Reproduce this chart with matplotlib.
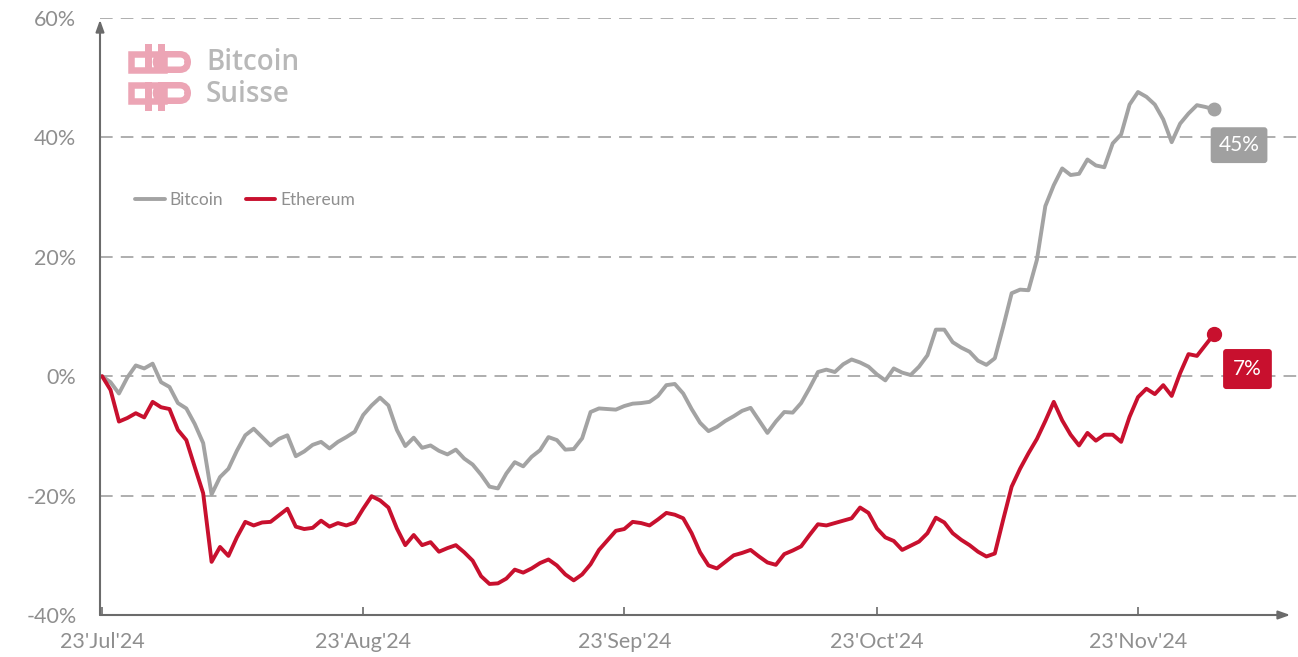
import matplotlib
matplotlib.use("Agg")
import matplotlib.pyplot as plt
from matplotlib.patches import FancyBboxPatch, Rectangle
import pandas as pd

# ---------------- data (percent change since 23 Jul 2024) ----------------
start_date = "2024-07-23"
bitcoin = [
    0.0, -1.0, -2.9, -0.2, 1.8, 1.3, 2.1, -1.0, -1.8, -4.5,
    -5.4, -8.0, -11.2, -19.8, -16.9, -15.5, -12.5, -9.9, -8.8, -10.2,
    -11.6, -10.5, -9.9, -13.4, -12.6, -11.5, -11.0, -12.1, -11.0, -10.2,
    -9.3, -6.5, -4.9, -3.6, -4.9, -9.0, -11.7, -10.3, -12.0, -11.6,
    -12.5, -13.1, -12.3, -13.8, -14.8, -16.5, -18.5, -18.8, -16.3, -14.4,
    -15.1, -13.5, -12.4, -10.2, -10.7, -12.3, -12.2, -10.4, -6.0, -5.4,
    -5.5, -5.6, -5.0, -4.6, -4.5, -4.3, -3.3, -1.5, -1.3, -2.9,
    -5.5, -7.8, -9.2, -8.5, -7.5, -6.7, -5.8, -5.3, -7.4, -9.5,
    -7.6, -6.0, -6.1, -4.5, -2.0, 0.7, 1.1, 0.7, 2.0, 2.8,
    2.3, 1.6, 0.3, -0.7, 1.3, 0.6, 0.2, 1.6, 3.5, 7.8,
    7.8, 5.7, 4.8, 4.1, 2.6, 1.9, 3.0, 8.3, 13.9, 14.5,
    14.4, 19.5, 28.5, 32.0, 34.8, 33.7, 33.9, 36.3, 35.3, 35.0,
    39.0, 40.5, 45.5, 47.6, 46.8, 45.5, 43.0, 39.2, 42.3, 44.0,
    45.4, 45.1, 44.7,
]
ethereum = [
    0.0, -2.3, -7.6, -7.0, -6.2, -6.9, -4.3, -5.2, -5.5, -9.0,
    -10.7, -15.2, -19.6, -31.1, -28.6, -30.1, -27.0, -24.4, -25.0, -24.5,
    -24.4, -23.3, -22.2, -25.2, -25.6, -25.4, -24.2, -25.2, -24.6, -25.0,
    -24.5, -22.2, -20.1, -20.8, -22.0, -25.5, -28.3, -26.6, -28.3, -27.8,
    -29.4, -28.8, -28.3, -29.5, -30.9, -33.5, -34.8, -34.7, -33.9, -32.4,
    -32.9, -32.2, -31.3, -30.7, -31.7, -33.2, -34.2, -33.2, -31.5, -29.1,
    -27.5, -25.9, -25.6, -24.4, -24.6, -25.0, -24.0, -22.9, -23.2, -23.8,
    -26.3, -29.5, -31.7, -32.2, -31.1, -30.0, -29.6, -29.1, -30.2, -31.2,
    -31.6, -29.8, -29.2, -28.5, -26.6, -24.8, -25.0, -24.6, -24.2, -23.8,
    -22.0, -22.9, -25.5, -27.0, -27.6, -29.1, -28.4, -27.7, -26.3, -23.7,
    -24.5, -26.3, -27.4, -28.3, -29.4, -30.2, -29.7, -24.0, -18.5, -15.5,
    -12.9, -10.5, -7.5, -4.3, -7.4, -9.8, -11.6, -9.5, -10.8, -9.8,
    -9.8, -11.0, -6.8, -3.5, -2.1, -3.0, -1.5, -3.3, 0.5, 3.7,
    3.4, 5.2, 7.0,
]
series_names = ["Bitcoin", "Ethereum"]
end_labels = ["45%", "7%"]
x_tick_dates = ["2024-07-23", "2024-08-23", "2024-09-23", "2024-10-23", "2024-11-23"]
x_tick_labels = ["23'Jul'24", "23'Aug'24", "23'Sep'24", "23'Oct'24", "23'Nov'24"]
y_ticks = [-40, -20, 0, 20, 40, 60]
y_tick_labels = ["-40%", "-20%", "0%", "20%", "40%", "60%"]

# ---------------- styling ----------------
GREY = "#a3a3a3"
RED = "#c8102e"
AXIS = "#6b6b6b"
TXT = "#8f8f8f"
FONT = "Lato"

plt.rcParams["font.family"] = [FONT, "DejaVu Sans"]

W, H = 1298, 657
fig = plt.figure(figsize=(W / 100, H / 100), dpi=100)
fig.patch.set_facecolor("white")

left_px, right_px, top_px, bottom_px = 100, 1298, 18, 615
ax = fig.add_axes([left_px / W, 1 - bottom_px / H,
                   (right_px - left_px) / W, (bottom_px - top_px) / H])
ax.set_facecolor("none")

dates = pd.date_range(start_date, periods=len(bitcoin), freq="D")
d0 = pd.Timestamp(start_date)
ax.set_xlim(d0 - pd.Timedelta(hours=6), d0 + pd.Timedelta(days=142))
ax.set_ylim(-40, 60)

# grid
for yv in y_ticks[1:]:
    ax.axhline(yv, color="#a8a8a8", lw=1.3, ls=(0, (7, 4.5)), zorder=1)

# lines
ax.plot(dates, bitcoin, color=GREY, lw=2.8, solid_capstyle="round",
        solid_joinstyle="round", zorder=3, label=series_names[0])
ax.plot(dates, ethereum, color=RED, lw=2.8, solid_capstyle="round",
        solid_joinstyle="round", zorder=4, label=series_names[1])
ax.plot(dates[-1], bitcoin[-1], "o", color=GREY, ms=9, zorder=5)
ax.plot(dates[-1], ethereum[-1], "o", color=RED, ms=10, zorder=5)

# end labels
ax.text(dates[-1] + pd.Timedelta(days=3.0), bitcoin[-1] - 6.0, end_labels[0],
        color="white", fontsize=15, ha="center", va="center", zorder=6,
        bbox=dict(boxstyle="round,pad=0.38,rounding_size=0.15", fc="#a0a0a0", ec="none"))
ax.text(dates[-1] + pd.Timedelta(days=4.0), ethereum[-1] - 5.8, end_labels[1],
        color="white", fontsize=15, ha="center", va="center", zorder=6,
        bbox=dict(boxstyle="round,pad=0.48,rounding_size=0.15", fc=RED, ec="none"))

# spines as arrows
for s in ax.spines.values():
    s.set_visible(False)
ax.annotate("", xy=(0.9935, 0), xytext=(0, 0), xycoords="axes fraction",
            arrowprops=dict(arrowstyle="-|>,head_length=0.7,head_width=0.25",
                            color=AXIS, lw=1.5, shrinkA=0, shrinkB=0), zorder=7)
ax.annotate("", xy=(0, 0.997), xytext=(0, 0), xycoords="axes fraction",
            arrowprops=dict(arrowstyle="-|>,head_length=0.7,head_width=0.25",
                            color=AXIS, lw=1.5, shrinkA=0, shrinkB=0), zorder=7)

ax.set_xticks(pd.to_datetime(x_tick_dates))
ax.set_xticklabels(x_tick_labels)
ax.tick_params(axis="x", direction="in", length=6, width=1.2, color=AXIS,
               labelsize=15.5, labelcolor=TXT, pad=12)
ax.set_yticks(y_ticks)
ax.set_yticklabels(y_tick_labels)
ax.tick_params(axis="y", length=0, labelsize=15.5, labelcolor=TXT, pad=17)

# legend
leg = ax.legend(loc="center left", bbox_to_anchor=((135 - left_px) / (right_px - left_px),
                                                    (bottom_px - 200) / (bottom_px - top_px)),
                ncol=2, frameon=False, handlelength=1.7, handletextpad=0.3,
                columnspacing=1.3, borderpad=0, borderaxespad=0, fontsize=12.5)
for t in leg.get_texts():
    t.set_color(TXT)
for l in leg.get_lines():
    l.set_linewidth(2.8)

# logo
PINK = "#eca5b5"
SW = 6.5                 # stroke width in px
LW = SW * 72 / 100       # in points

def fig_xy(x, y):
    return x / W, 1 - y / H

def outline(x0, y0, x1, y1, rounded=False):
    fx, fy = fig_xy(x0, y1)
    fw, fh = (x1 - x0) / W, (y1 - y0) / H
    if rounded:
        p = FancyBboxPatch((fx, fy), fw, fh,
                           boxstyle="round,pad=0,rounding_size=%f" % (8 / W),
                           transform=fig.transFigure, fc="none", ec=PINK, lw=LW,
                           zorder=10, mutation_aspect=W / H)
    else:
        p = Rectangle((fx, fy), fw, fh, transform=fig.transFigure, fc="none",
                      ec=PINK, lw=LW, zorder=10, joinstyle="miter")
    fig.patches.append(p)

def block(x0, y0, x1, y1):
    fx, fy = fig_xy(x0, y1)
    p = Rectangle((fx, fy), (x1 - x0) / W, (y1 - y0) / H, transform=fig.transFigure,
                  fc=PINK, ec="none", zorder=10)
    fig.patches.append(p)

h = SW / 2
# top glyph
outline(128 + h, 51 + h, 164, 73 - h)
outline(156, 51 + h, 191 - h, 73 - h, rounded=True)
block(145, 44, 152, 73)
block(158, 44, 165, 73)
# bottom glyph
outline(128 + h, 82 + h, 164, 104 - h)
outline(156, 82 + h, 191 - h, 104 - h, rounded=True)
block(145, 82, 152, 111)
block(158, 82, 165, 111)

for txt, yy in (("Bitcoin", 62), ("Suisse", 95)):
    fig.text(206 / W, 1 - yy / H, txt, fontsize=20, color="#b8b8b8",
             fontweight="semibold", va="center", ha="left",
             family=["Open Sans", "DejaVu Sans"])

fig.savefig("out.png", dpi=100, facecolor="white")
